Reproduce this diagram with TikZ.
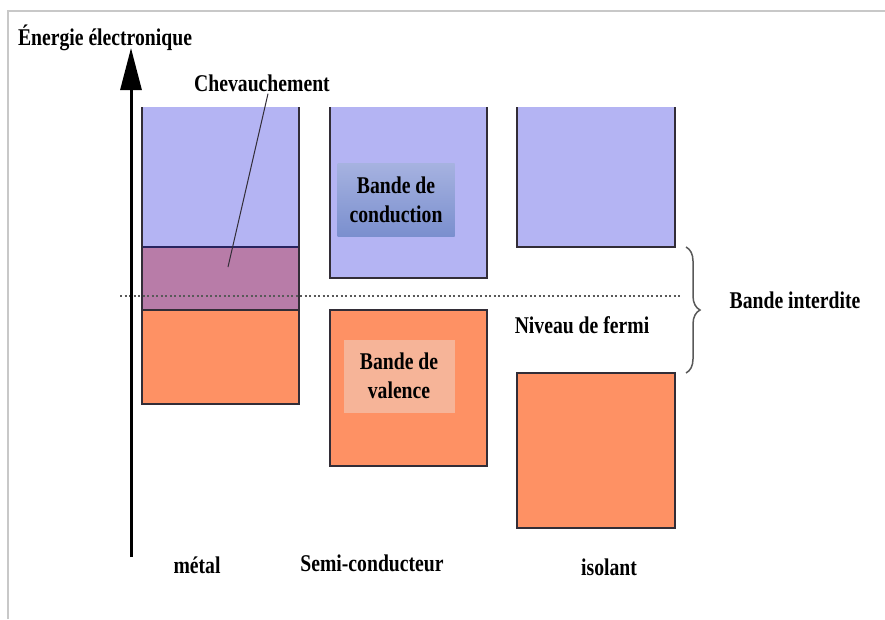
\documentclass[tikz,border=0pt]{standalone}
\usepackage{fontspec}
\setmainfont{Liberation Serif}[FakeStretch=0.82]
\usetikzlibrary{positioning,arrows.meta,decorations.pathreplacing}

\definecolor{condblue}{RGB}{180,180,243}
\definecolor{valorange}{RGB}{254,145,100}
\definecolor{overlap}{RGB}{184,124,168}
\definecolor{bandedge}{RGB}{50,45,55}
\definecolor{framegrey}{RGB}{200,200,200}
\definecolor{labtop}{RGB}{166,178,224}
\definecolor{labbot}{RGB}{122,143,206}
\definecolor{labsalmon}{RGB}{246,180,152}

\tikzset{
	band/.style={draw=bandedge, line width=2pt},
	txt/.style={inner sep=0pt, font=\bfseries\fontsize{24}{29}\selectfont, align=center},
	labbox/.style={txt, minimum width=#1, minimum height=73pt},
}

\begin{document}
\begin{tikzpicture}[x=1pt, y=-1pt]
		\useasboundingbox (0,0) rectangle (885,619);
		\draw[framegrey, line width=2pt] (8,619) -- (8,11) -- (885,11);

		% bands: metal
		\fill[condblue] (142,107) rectangle (299,247);
		\fill[overlap] (142,247) rectangle (299,310);
		\fill[valorange] (142,310) rectangle (299,404);
		\draw[bandedge!80!blue, line width=1.5pt] (142,247) -- (299,247);
		\draw[band] (142,310) -- (299,310);
		\draw[band] (142,107) -- (142,404) -- (299,404) -- (299,107);

		% bands: semi-conducteur
		\fill[condblue] (330,107) rectangle (487,278);
		\draw[band] (330,107) -- (330,278) -- (487,278) -- (487,107);
		\filldraw[band, fill=valorange] (330,310) rectangle (487,466);

		% bands: isolant
		\fill[condblue] (517,107) rectangle (675,247);
		\draw[band] (517,107) -- (517,247) -- (675,247) -- (675,107);
		\filldraw[band, fill=valorange] (517,373) rectangle (675,528);

		\node[labbox=117pt, top color=labtop, bottom color=labbot] (cond) at (396,200) {Bande de\\conduction};
		\node[labbox=111pt, fill=labsalmon] (val) at (399,376) {Bande de\\valence};

		% fermi level and gap
		\coordinate (fl) at (120,296);
		\coordinate (fr) at (680,296);
		\draw[black!65, line width=2pt, dash pattern=on 2pt off 2.5pt] (fl) -- (fr);
		\coordinate (gtop) at (686,247);
		\coordinate (gbot) at (686,373);
		\draw[black!65, line width=1.5pt, decorate, decoration={brace, amplitude=14pt}] (gtop) -- (gbot);
		\node[txt] (gap) at (795,300) {Bande interdite};
		\node[txt] (fermi) at (582,325) {Niveau de fermi};

		% axis
		\coordinate (axisbot) at (131,557);
		\coordinate (axistop) at (131,48);
		\draw[line width=3pt, -{Triangle[length=42pt, width=21pt]}] (axisbot) -- (axistop);
		\node[txt] (title) at (105,38) {Énergie électronique};

		\node[txt] (chev) at (262,83) {Chevauchement};
		\coordinate (ovl) at (228,267);
		\draw[bandedge, line width=1pt] ([xshift=6pt, yshift=-2pt]chev.south) -- (ovl);

		% names
		\node[txt] (metal) at (197,565) {métal};
		\node[txt] (semi) at (372,563) {Semi-conducteur};
		\node[txt] (iso) at (609,567) {isolant};
\end{tikzpicture}
\end{document}
